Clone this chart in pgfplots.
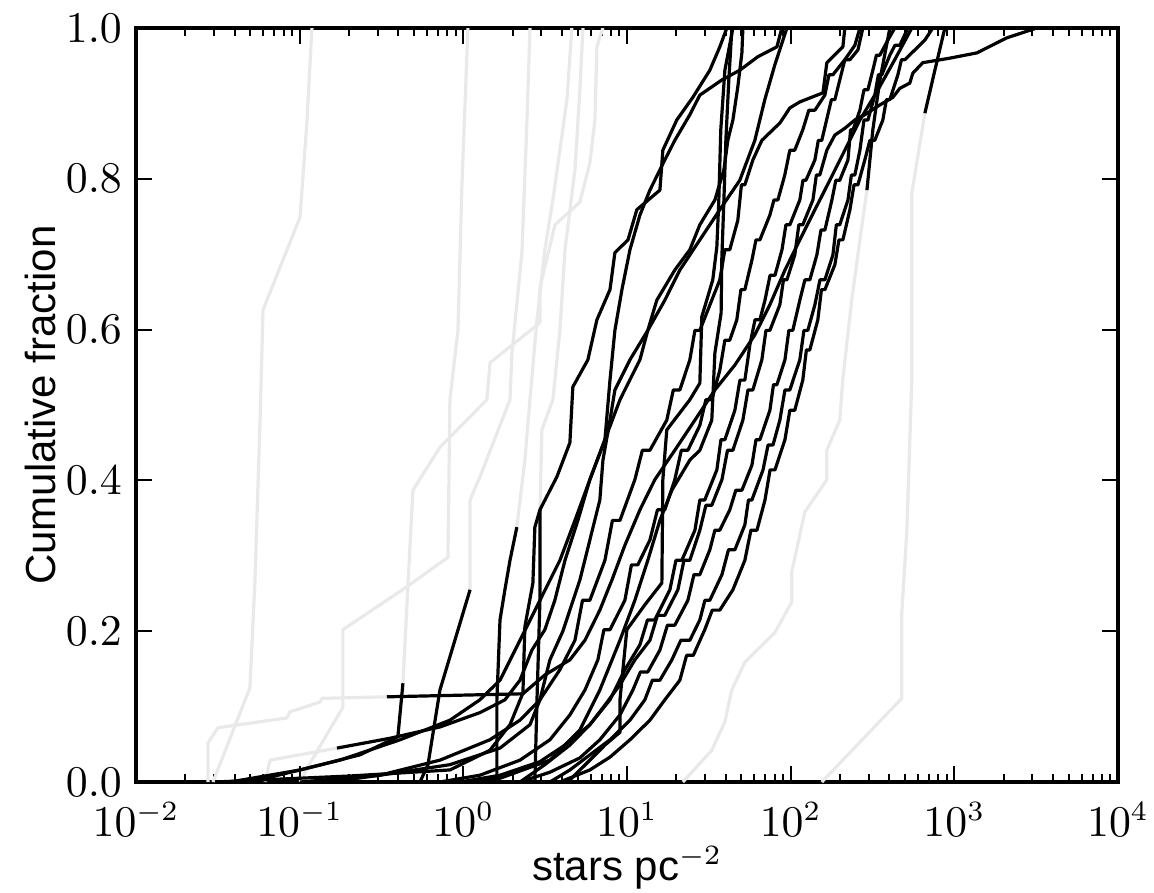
\documentclass[border=0pt]{standalone}
\usepackage{fontspec}
\usepackage{pgfplots}
\pgfplotsset{compat=1.18}
\newfontfamily\hv{Liberation Sans}
\definecolor{lgray}{RGB}{233,233,233}
\begin{document}
\begin{tikzpicture}
\begin{axis}[
 scale only axis, width=245.5pt, height=188.5pt,
 xmin=-2, xmax=4, ymin=0, ymax=1,
 xtick={-2,-1,0,1,2,3,4},
 xticklabels={$10^{-2}$,$10^{-1}$,$10^{0}$,$10^{1}$,$10^{2}$,$10^{3}$,$10^{4}$},
 minor xtick={-1.699,-1.523,-1.398,-1.301,-1.222,-1.155,-1.097,-1.046,
  -0.699,-0.523,-0.398,-0.301,-0.222,-0.155,-0.097,-0.046,
  0.301,0.477,0.602,0.699,0.778,0.845,0.903,0.954,
  1.301,1.477,1.602,1.699,1.778,1.845,1.903,1.954,
  2.301,2.477,2.602,2.699,2.778,2.845,2.903,2.954,
  3.301,3.477,3.602,3.699,3.778,3.845,3.903,3.954},
 ytick={0,0.2,0.4,0.6,0.8,1.0},
 yticklabel style={/pgf/number format/.cd,fixed,fixed zerofill,precision=1},
 xticklabel style={yshift=-1.5pt},
 tick align=inside, tick pos=both,
 major tick length=4pt, minor tick length=2pt,
 every tick/.style={black, line width=0.5pt},
 axis line style={line width=1pt},
 tick label style={font=\fontsize{10.5}{12}\selectfont},
 xlabel={\hv stars pc$^{-2}$},
 ylabel={\hv Cumulative fraction},
 every axis x label/.style={at={(axis description cs:0.5,0)}, anchor=base, yshift=-24.5pt, font=\fontsize{10.5}{12}\selectfont},
 every axis y label/.style={at={(axis description cs:0,0.5)}, rotate=90, anchor=center, yshift=24pt, font=\fontsize{10.5}{12}\selectfont},
 every axis plot/.append style={line width=0.8pt, line join=round},
]
% ---- gray curves ----
\addplot[lgray] coordinates {(-1.530,0) (-1.304,0.125) (-1.273,0.268) (-1.242,0.480) (-1.224,0.626) (-0.998,0.749) (-0.956,0.874) (-0.925,1)};
\addplot[lgray] coordinates {(-1.560,0) (-1.560,0.052) (-1.499,0.072) (-1.078,0.085) (-1.060,0.093) (-0.876,0.106) (-0.864,0.111) (-0.467,0.113)};
\addplot[lgray] coordinates {(-1.212,0) (-1.181,0.029) (-0.772,0.045)};
\addplot[lgray] coordinates {(-0.998,0) (-0.937,0.025) (-0.736,0.099) (-0.736,0.202) (-0.345,0.259) (-0.094,0.298) (-0.082,0.507) (-0.033,0.599) (-0.009,0.789) (0.028,1)};
\addplot[lgray] coordinates {(-0.369,0.131) (-0.339,0.259) (-0.308,0.387) (-0.143,0.444) (0.144,0.507) (0.163,0.556) (0.468,0.609) (0.468,0.656) (0.560,0.739) (0.712,0.769) (0.773,0.821) (0.804,0.878) (0.816,0.975) (0.853,1)};
\addplot[lgray] coordinates {(0.041,0.255) (0.041,0.374) (0.102,0.405) (0.285,0.507) (0.297,0.569) (0.358,0.702) (0.389,0.878) (0.407,1)};
\addplot[lgray] coordinates {(0.327,0.338) (0.376,0.427) (0.407,0.507) (0.450,0.613) (0.498,0.706) (0.547,0.772) (0.590,0.838) (0.633,0.905) (0.663,1)};
\addplot[lgray] coordinates {(0.468,0.361) (0.480,0.467) (0.547,0.507) (0.590,0.599) (0.621,0.706) (0.682,0.812) (0.712,0.918) (0.731,1)};
\addplot[lgray] coordinates {(1.341,0) (1.518,0.042) (1.598,0.080) (1.640,0.122) (1.720,0.159) (1.903,0.198) (2.007,0.239) (2.007,0.279) (2.086,0.358) (2.221,0.401) (2.221,0.440) (2.300,0.480) (2.318,0.533) (2.373,0.639) (2.423,0.719) (2.466,0.785)};
\addplot[lgray] coordinates {(2.190,0) (2.679,0.111) (2.679,0.224) (2.710,0.334) (2.740,0.533) (2.740,0.781) (2.820,0.887)};
% ---- black curves ----
\addplot[black] coordinates {(2.466,0.785) (2.502,0.865) (2.545,0.931) (2.606,1)};
\addplot[black] coordinates {(2.820,0.887) (2.881,0.944) (2.942,1)};
\addplot[black] coordinates {(-1.426,0) (-0.998,0.016) (-0.632,0.036) (-0.400,0.060) (-0.369,0.131)};
\addplot[black] coordinates {(-0.265,0) (-0.216,0.023) (-0.143,0.122) (0.041,0.255)};
\addplot[black] coordinates {(0.205,0) (0.205,0.109) (0.224,0.215) (0.254,0.255) (0.285,0.294) (0.327,0.338)};
\addplot[black] coordinates {(0.437,0) (0.450,0.109) (0.468,0.241) (0.468,0.361)};
% A
\addplot[black] coordinates {(1.610,1) (1.567,0.975) (1.506,0.944) (1.402,0.908) (1.304,0.878) (1.219,0.838) (1.201,0.785) (1.060,0.759) (1.006,0.719) (0.926,0.702) (0.896,0.653) (0.816,0.613) (0.761,0.560) (0.669,0.524) (0.651,0.450) (0.572,0.405) (0.468,0.361) (0.437,0.338) (0.425,0.264) (0.376,0.206) (0.364,0.118) (0.285,0.076) (0.162,0.042) (-0.082,0.016) (-0.693,0.008) (-1.518,0)};
% B
\addplot[black] coordinates {(0.639,0) (0.773,0.029) (0.865,0.049) (0.957,0.066) (0.957,0.109) (0.999,0.202) (1.109,0.235) (1.213,0.264) (1.219,0.401) (1.243,0.467) (1.384,0.507) (1.445,0.529) (1.457,0.617) (1.524,0.666) (1.549,0.710) (1.561,0.772) (1.573,0.865) (1.598,0.944) (1.647,1)};
% C
\addplot[black] coordinates {(1.641,1) (1.622,0.931) (1.604,0.851) (1.592,0.772) (1.579,0.692) (1.575,0.622) (1.537,0.569) (1.518,0.480) (1.445,0.440) (1.384,0.427) (1.274,0.387) (1.201,0.347) (1.127,0.294) (1.048,0.241) (0.957,0.188) (0.834,0.122) (0.712,0.069) (0.529,0.029) (0.224,0.005) (0.041,0)};
% D
\addplot[black] coordinates {(1.708,1) (1.702,0.967) (1.677,0.922) (1.647,0.878) (1.616,0.851) (1.592,0.812) (1.537,0.772) (1.445,0.739) (1.384,0.706) (1.292,0.679) (1.182,0.639) (1.127,0.599) (1.018,0.560) (0.926,0.520) (0.896,0.480) (0.853,0.427) (0.834,0.374) (0.773,0.321) (0.712,0.268) (0.608,0.200) (0.529,0.162) (0.468,0.109) (0.407,0.076) (0.224,0.045) (-0.082,0.023) (-0.510,0.009) (-0.998,0)};
% E
\addplot[black] coordinates {(1.946,1) (1.916,0.975) (1.800,0.962) (1.689,0.944) (1.579,0.931) (1.445,0.911) (1.384,0.885) (1.292,0.851) (1.231,0.825) (1.140,0.785) (1.079,0.752) (1.018,0.706) (0.969,0.653) (0.926,0.599) (0.896,0.533) (0.865,0.454) (0.773,0.401) (0.682,0.347) (0.590,0.294) (0.468,0.241) (0.346,0.188) (0.224,0.135) (0.101,0.109) (-0.082,0.082) (-0.387,0.056) (-0.754,0.029) (-0.998,0.016) (-1.304,0)};
% F
\addplot[black] coordinates {(-0.772,0.045) (-0.449,0.058) (-0.143,0.073) (0.101,0.092) (0.254,0.109) (0.346,0.135) (0.419,0.175) (0.498,0.202) (0.559,0.241) (0.621,0.294) (0.700,0.347) (0.773,0.401) (0.865,0.454) (0.957,0.507) (1.079,0.560) (1.127,0.599) (1.231,0.639) (1.323,0.679) (1.445,0.719) (1.567,0.759) (1.689,0.798) (1.781,0.851) (1.842,0.905) (1.903,0.951) (1.977,1)};
% G
\addplot[black] coordinates {(2.331,1) (2.319,0.975) (2.221,0.954) (2.197,0.914) (2.056,0.902) (1.995,0.894) (1.934,0.874) (1.824,0.851) (1.769,0.825) (1.720,0.792) (1.699,0.792) (1.677,0.745) (1.628,0.706) (1.598,0.706) (1.567,0.666) (1.445,0.599) (1.415,0.599) (1.384,0.560) (1.323,0.520) (1.283,0.520) (1.243,0.480) (1.140,0.440) (1.094,0.440) (1.048,0.401) (0.957,0.347) (0.911,0.347) (0.865,0.294) (0.773,0.241) (0.728,0.241) (0.682,0.188) (0.590,0.149) (0.468,0.109) (0.346,0.082) (0.162,0.056) (-0.143,0.029) (-0.510,0.009) (-0.815,0)};
% H
\addplot[black] coordinates {(2.423,1) (2.392,0.977) (2.331,0.958) (2.258,0.938) (2.234,0.938) (2.209,0.911) (2.148,0.891) (2.111,0.891) (2.074,0.865) (2.025,0.838) (1.995,0.838) (1.964,0.805) (1.922,0.772) (1.898,0.772) (1.873,0.752) (1.812,0.719) (1.788,0.719) (1.763,0.692) (1.720,0.653) (1.696,0.653) (1.671,0.613) (1.628,0.586) (1.598,0.586) (1.567,0.546) (1.518,0.507) (1.482,0.507) (1.445,0.473) (1.372,0.440) (1.332,0.440) (1.292,0.401) (1.231,0.361) (1.186,0.361) (1.140,0.321) (1.066,0.288) (1.027,0.288) (0.987,0.241) (0.896,0.202) (0.859,0.202) (0.822,0.162) (0.743,0.122) (0.651,0.089) (0.529,0.056) (0.346,0.029) (0.101,0.009) (-0.143,0)};
% I
\addplot[black] coordinates {(2.441,1) (2.411,0.971) (2.362,0.958) (2.331,0.958) (2.300,0.931) (2.270,0.905) (2.249,0.905) (2.227,0.885) (2.190,0.851) (2.169,0.851) (2.148,0.825) (2.093,0.798) (2.075,0.798) (2.056,0.772) (1.995,0.739) (1.971,0.739) (1.947,0.706) (1.904,0.672) (1.874,0.672) (1.843,0.639) (1.812,0.613) (1.782,0.613) (1.751,0.580) (1.720,0.533) (1.690,0.533) (1.659,0.493) (1.598,0.454) (1.574,0.454) (1.549,0.414) (1.475,0.374) (1.445,0.374) (1.415,0.334) (1.335,0.294) (1.299,0.294) (1.262,0.255) (1.170,0.215) (1.125,0.215) (1.079,0.182) (0.987,0.149) (0.896,0.109) (0.773,0.076) (0.621,0.049) (0.468,0.027) (0.224,0.009) (-0.021,0)};
% J
\addplot[black] coordinates {(2.636,1) (2.594,0.984) (2.545,0.964) (2.524,0.964) (2.502,0.944) (2.472,0.918) (2.448,0.918) (2.423,0.891) (2.381,0.865) (2.366,0.865) (2.350,0.825) (2.300,0.798) (2.276,0.798) (2.252,0.772) (2.209,0.732) (2.185,0.732) (2.160,0.699) (2.117,0.666) (2.087,0.666) (2.056,0.639) (2.013,0.599) (1.989,0.599) (1.965,0.560) (1.916,0.527) (1.895,0.527) (1.873,0.493) (1.812,0.454) (1.788,0.454) (1.763,0.420) (1.702,0.387) (1.665,0.387) (1.628,0.361) (1.567,0.334) (1.537,0.334) (1.506,0.308) (1.445,0.275) (1.409,0.275) (1.372,0.241) (1.292,0.208) (1.247,0.208) (1.201,0.175) (1.127,0.146) (1.082,0.146) (1.036,0.122) (0.957,0.089) (0.834,0.056) (0.712,0.032) (0.529,0.013) (0.346,0)};
% K
\addplot[black] coordinates {(2.716,1) (2.667,0.977) (2.637,0.977) (2.606,0.964) (2.557,0.938) (2.536,0.938) (2.514,0.911) (2.472,0.878) (2.448,0.878) (2.423,0.838) (2.392,0.805) (2.371,0.805) (2.350,0.772) (2.300,0.739) (2.279,0.739) (2.258,0.699) (2.209,0.666) (2.179,0.666) (2.148,0.633) (2.105,0.599) (2.081,0.599) (2.056,0.560) (1.995,0.520) (1.965,0.520) (1.934,0.480) (1.892,0.447) (1.862,0.447) (1.831,0.414) (1.763,0.374) (1.742,0.374) (1.720,0.341) (1.659,0.308) (1.620,0.308) (1.580,0.275) (1.506,0.241) (1.476,0.241) (1.445,0.215) (1.384,0.188) (1.329,0.188) (1.274,0.162) (1.201,0.135) (1.155,0.135) (1.109,0.109) (1.018,0.082) (0.896,0.056) (0.773,0.036) (0.651,0.016) (0.529,0)};
% L
\addplot[black] coordinates {(2.868,1) (2.820,0.984) (2.759,0.971) (2.698,0.958) (2.677,0.958) (2.655,0.938) (2.606,0.905) (2.585,0.905) (2.563,0.878) (2.514,0.851) (2.484,0.851) (2.453,0.825) (2.411,0.792) (2.387,0.792) (2.362,0.759) (2.319,0.719) (2.295,0.719) (2.270,0.686) (2.209,0.653) (2.188,0.653) (2.166,0.613) (2.117,0.573) (2.096,0.573) (2.074,0.533) (2.025,0.493) (1.995,0.493) (1.965,0.454) (1.904,0.414) (1.874,0.414) (1.843,0.374) (1.794,0.334) (1.757,0.334) (1.720,0.294) (1.647,0.255) (1.567,0.228) (1.521,0.228) (1.475,0.202) (1.405,0.168) (1.364,0.168) (1.323,0.135) (1.231,0.109) (1.140,0.082) (1.018,0.056) (0.896,0.033) (0.773,0.016) (0.590,0)};
% M
\addplot[black] coordinates {(3.504,1) (3.321,0.987) (3.138,0.967) (2.972,0.960) (2.807,0.954) (2.746,0.940) (2.728,0.927) (2.667,0.920) (2.624,0.908) (2.545,0.898) (2.453,0.885) (2.392,0.878) (2.331,0.867) (2.270,0.858) (2.221,0.838) (2.178,0.805) (2.157,0.805) (2.136,0.772) (2.074,0.739) (2.050,0.739) (2.025,0.699) (1.977,0.666) (1.956,0.666) (1.934,0.633) (1.873,0.599) (1.849,0.599) (1.824,0.560) (1.769,0.520) (1.739,0.520) (1.708,0.480) (1.647,0.440) (1.614,0.440) (1.580,0.401) (1.518,0.367) (1.482,0.367) (1.445,0.334) (1.384,0.294) (1.348,0.294) (1.311,0.255) (1.231,0.221) (1.186,0.221) (1.140,0.188) (1.048,0.162) (0.957,0.129) (0.865,0.102) (0.773,0.076) (0.651,0.049) (0.498,0.023) (0.346,0)};
% N
\addplot[black] coordinates {(-0.467,0.113) (0.364,0.117) (0.498,0.142) (0.651,0.162) (0.743,0.188) (0.834,0.228) (0.908,0.268) (0.987,0.314) (1.079,0.361) (1.170,0.401) (1.292,0.440) (1.415,0.480) (1.537,0.520) (1.659,0.553) (1.781,0.593) (1.873,0.633) (1.965,0.679) (2.056,0.719) (2.148,0.759) (2.239,0.798) (2.331,0.838) (2.423,0.878) (2.533,0.918) (2.636,0.958) (2.740,1)};
\end{axis}
\pgfresetboundingbox
\path[use as bounding box] (-34pt,-27.5pt) rectangle (254.5pt,195.5pt);
\end{tikzpicture}
\end{document}
